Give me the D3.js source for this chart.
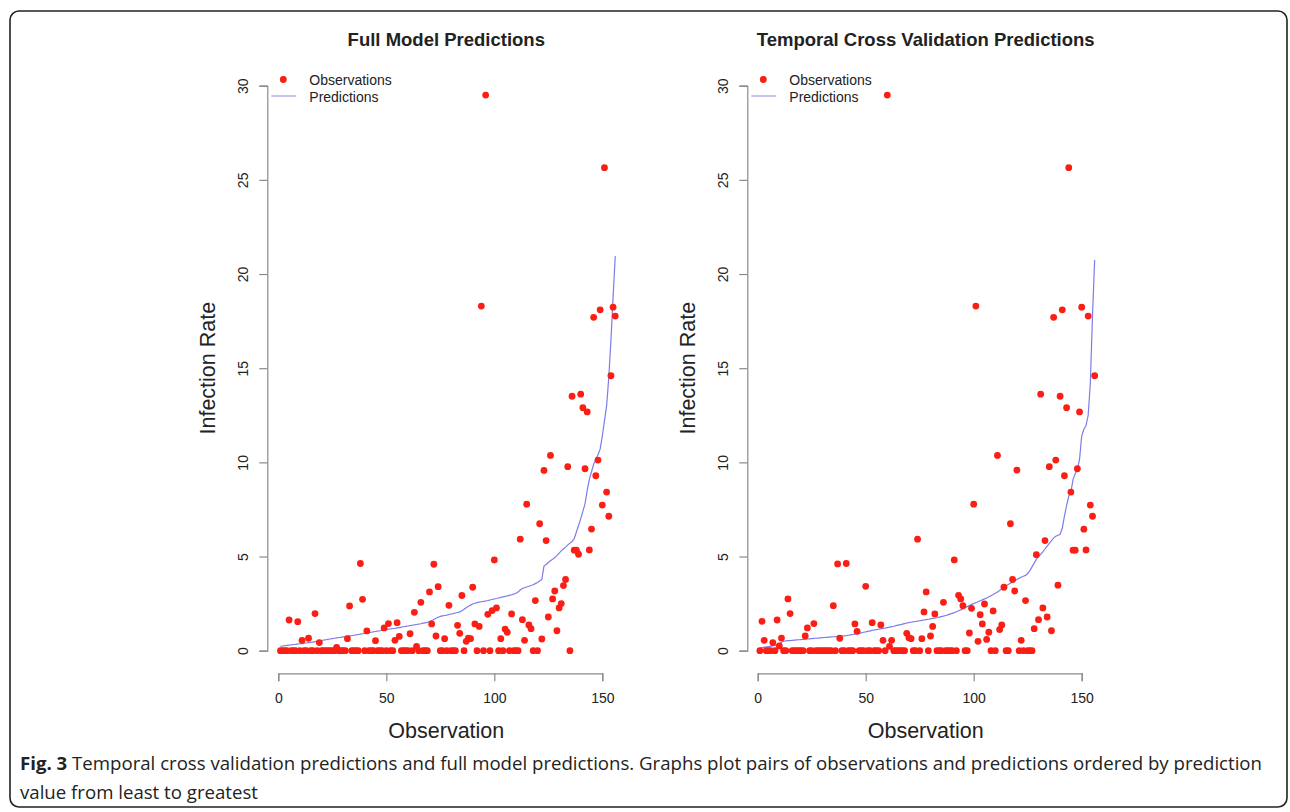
<!DOCTYPE html>
<html>
<head>
<meta charset="utf-8">
<script src="https://d3js.org/d3.v7.min.js"></script>
<style>
  html, body { margin: 0; padding: 0; background: #fff; }
  svg text.plot { font-family: "Liberation Sans", Arial, sans-serif; }
  svg text.caption { font-family: "Open Sans", "Noto Sans", sans-serif; }
</style>
</head>
<body>
<div id="chart"></div>
<script>
// panel titles
const titles = ["Full Model Predictions", "Temporal Cross Validation Predictions"];
const xTicks = [0, 50, 100, 150];
const yTicks = [0, 5, 10, 15, 20, 25, 30];

// observed infection rates, ordered by prediction (full model)
const obsFull = [
  0, 0, 0, 0, 1.63, 0, 0, 0, 1.54, 0,
  0.55, 0, 0, 0.66, 0, 0, 1.97, 0, 0.43, 0,
  0, 0, 0, 0, 0, 0, 0.18, 0, 0, 0,
  0, 0.64, 2.38, 0, 0, 0, 0, 4.63, 2.73, 0,
  1.05, 0, 0, 0, 0.53, 0, 0, 0, 1.21, 0,
  1.44, 0, 0, 0.55, 1.49, 0.76, 0, 0, 0, 0,
  0.9, 0, 2.04, 0.23, 0, 2.57, 0, 0, 0, 3.12,
  1.42, 4.59, 0.78, 3.4, 0, 0, 0.64, 0, 2.41, 0,
  0, 0, 1.35, 0.92, 2.93, 0, 0.5, 0.66, 0.64, 3.37,
  1.42, 0, 1.29, 18.3, 0, 29.5, 1.93, 0, 2.13, 4.82,
  2.27, 0, 0.64, 0, 1.15, 0.98, 0, 1.95, 0, 0,
  0, 5.92, 1.65, 0.55, 7.78, 1.37, 1.17, 0, 2.66, 0,
  6.74, 0.62, 9.57, 5.85, 1.79, 10.37, 2.75, 3.17, 1.06, 2.27,
  2.5, 3.46, 3.78, 9.77, 0, 13.51, 5.34, 5.34, 5.12, 13.62,
  12.9, 9.66, 12.68, 5.35, 6.46, 17.7, 9.29, 10.12, 18.1, 7.73,
  25.65, 8.42, 7.14, 14.6, 18.24, 17.77
];

// full model predictions
const predFull = [
  0.23, 0.25, 0.27, 0.28, 0.30, 0.31, 0.33, 0.34, 0.36, 0.37,
  0.38, 0.40, 0.41, 0.43, 0.44, 0.46, 0.48, 0.50, 0.52, 0.54,
  0.56, 0.58, 0.60, 0.62, 0.64, 0.66, 0.68, 0.70, 0.71, 0.73,
  0.75, 0.77, 0.79, 0.80, 0.82, 0.84, 0.86, 0.88, 0.90, 0.92,
  0.94, 0.96, 0.98, 1.00, 1.02, 1.04, 1.06, 1.08, 1.10, 1.12,
  1.14, 1.16, 1.18, 1.19, 1.21, 1.23, 1.25, 1.27, 1.29, 1.31,
  1.33, 1.35, 1.37, 1.39, 1.41, 1.43, 1.46, 1.48, 1.50, 1.55,
  1.60, 1.66, 1.72, 1.78, 1.82, 1.85, 1.87, 1.89, 1.92, 1.95,
  1.97, 2.00, 2.03, 2.06, 2.12, 2.20, 2.28, 2.36, 2.42, 2.48,
  2.52, 2.55, 2.58, 2.60, 2.62, 2.64, 2.66, 2.69, 2.72, 2.75,
  2.77, 2.80, 2.83, 2.86, 2.88, 2.91, 2.94, 2.97, 3.00, 3.05,
  3.12, 3.22, 3.30, 3.34, 3.38, 3.42, 3.46, 3.50, 3.56, 3.62,
  3.70, 3.78, 4.49, 4.58, 4.68, 4.78, 4.85, 4.95, 5.05, 5.18,
  5.30, 5.40, 5.50, 5.62, 5.70, 5.80, 5.95, 6.30, 6.65, 7.00,
  7.40, 7.80, 8.50, 9.10, 9.50, 9.90, 10.15, 10.40, 10.70, 11.40,
  12.20, 13.00, 14.50, 16.50, 18.80, 20.95
];

// observed infection rates, ordered by prediction (temporal CV)
const obsCV = [
  0, 1.56, 0.55, 0, 0, 0, 0.43, 0, 1.63, 0.25,
  0.67, 0, 0, 2.75, 1.97, 0, 0, 0, 0, 0,
  0, 0.78, 1.21, 0, 0, 1.44, 0, 0, 0, 0,
  0, 0, 0, 0, 2.39, 0, 4.61, 0.66, 0, 0,
  4.63, 0, 0, 0, 1.42, 1.03, 0, 0, 0, 3.42,
  0, 0, 1.49, 0, 0, 0, 1.37, 0.55, 0, 29.5,
  0.23, 0.55, 0, 0, 0, 0, 0, 0, 0.92, 0.69,
  0.64, 0, 0, 5.92, 0, 0.64, 2.06, 3.12, 0, 0.78,
  1.29, 1.95, 0, 0, 0, 2.57, 0, 0, 0, 0,
  4.82, 0, 2.94, 2.75, 2.39, 0, 0, 0.94, 2.25, 7.78,
  18.3, 0.5, 1.91, 1.42, 2.48, 0.6, 0.98, 0, 2.11, 0,
  10.37, 1.12, 1.37, 3.37, 0, 0, 6.74, 3.78, 3.17, 9.59,
  0, 0.55, 0, 2.66, 0, 0, 0, 1.17, 5.1, 1.65,
  13.62, 2.27, 5.85, 1.79, 9.77, 1.06, 17.7, 10.12, 3.48, 13.51,
  18.1, 9.29, 12.9, 25.65, 8.42, 5.34, 5.34, 9.66, 12.68, 18.24,
  6.45, 5.35, 17.77, 7.73, 7.14, 14.6
];

// temporal cross validation predictions
const predCV = [
  0.14, 0.16, 0.18, 0.20, 0.22, 0.24, 0.26, 0.28, 0.30, 0.37,
  0.45, 0.50, 0.52, 0.53, 0.54, 0.55, 0.56, 0.57, 0.58, 0.59,
  0.60, 0.61, 0.62, 0.63, 0.64, 0.65, 0.66, 0.67, 0.68, 0.69,
  0.70, 0.71, 0.72, 0.73, 0.74, 0.75, 0.76, 0.77, 0.78, 0.79,
  0.80, 0.82, 0.84, 0.86, 0.88, 0.90, 0.92, 0.95, 0.98, 1.00,
  1.03, 1.05, 1.08, 1.10, 1.12, 1.14, 1.16, 1.18, 1.20, 1.23,
  1.25, 1.28, 1.30, 1.33, 1.36, 1.38, 1.41, 1.44, 1.47, 1.49,
  1.51, 1.53, 1.55, 1.57, 1.59, 1.61, 1.63, 1.65, 1.67, 1.69,
  1.71, 1.73, 1.75, 1.78, 1.81, 1.84, 1.87, 1.90, 1.94, 1.98,
  2.02, 2.07, 2.12, 2.17, 2.22, 2.28, 2.34, 2.40, 2.46, 2.50,
  2.55, 2.60, 2.65, 2.70, 2.75, 2.80, 2.86, 2.92, 2.98, 3.05,
  3.12, 3.20, 3.28, 3.36, 3.44, 3.52, 3.58, 3.64, 3.70, 3.78,
  3.84, 3.90, 3.95, 4.00, 4.10, 4.25, 4.45, 4.65, 4.85, 5.00,
  5.12, 5.25, 5.40, 5.55, 5.70, 5.85, 5.98, 6.08, 6.13, 6.18,
  6.50, 7.15, 7.70, 8.20, 8.42, 9.10, 9.40, 9.65, 10.16, 11.40,
  11.76, 11.95, 12.50, 14.20, 17.80, 20.75
];

const captionBold = "Fig. 3";
const captionLine1 = " Temporal cross validation predictions and full model predictions. Graphs plot pairs of observations and predictions ordered by prediction";
const captionLine2 = "value from least to greatest";

const width = 1290, height = 812;
const svg = d3.select("#chart").append("svg")
  .attr("width", width)
  .attr("height", height);

// figure frame
svg.append("rect")
  .attr("x", 10).attr("y", 11)
  .attr("width", 1277).attr("height", 796)
  .attr("rx", 9)
  .attr("fill", "none")
  .attr("stroke", "#222")
  .attr("stroke-width", 1.6);

const panels = [
  { title: titles[0], obs: obsFull, pred: predFull, x0: 278.3, yAxisX: 267.3 },
  { title: titles[1], obs: obsCV, pred: predCV, x0: 757.7, yAxisX: 747.3 }
];

const axisColor = "#8a8a8a";
const textColor = "#222";

panels.forEach(function (p) {
  const x = d3.scaleLinear().domain([0, 150]).range([p.x0, p.x0 + 324]);
  const y = d3.scaleLinear().domain([0, 30]).range([650.7, 85.7]);
  const g = svg.append("g");

  // title
  g.append("text").attr("class", "plot")
    .attr("x", x(75) + 6).attr("y", 46)
    .attr("text-anchor", "middle")
    .attr("font-size", 18.5)
    .attr("font-weight", "bold")
    .attr("fill", textColor)
    .text(p.title);

  // x axis
  const xa = g.append("g")
    .attr("transform", "translate(0,673.3)")
    .call(d3.axisBottom(x).tickValues(xTicks).tickSize(8).tickPadding(12));
  xa.select(".domain").attr("stroke", axisColor).attr("stroke-width", 1.2);
  xa.selectAll(".tick line").attr("stroke", axisColor).attr("stroke-width", 1.2);
  xa.selectAll(".tick text").attr("class", "plot")
    .attr("font-size", 14).attr("fill", textColor);

  // y axis
  const ya = g.append("g")
    .attr("transform", "translate(" + p.yAxisX + ",0)")
    .call(d3.axisLeft(y).tickValues(yTicks).tickSize(8).tickPadding(6));
  ya.select(".domain").attr("stroke", axisColor).attr("stroke-width", 1.2);
  ya.selectAll(".tick line").attr("stroke", axisColor).attr("stroke-width", 1.2);
  ya.selectAll(".tick text").attr("class", "plot")
    .attr("font-size", 14).attr("fill", textColor)
    .attr("x", null).attr("dy", null)
    .attr("text-anchor", "middle")
    .attr("transform", "translate(-19,0) rotate(-90)");

  // axis titles
  g.append("text").attr("class", "plot")
    .attr("x", x(75) + 6).attr("y", 738)
    .attr("text-anchor", "middle")
    .attr("font-size", 21.5)
    .attr("fill", textColor)
    .text("Observation");
  g.append("text").attr("class", "plot")
    .attr("transform", "translate(" + (p.yAxisX - 52) + "," + y(15) + ") rotate(-90)")
    .attr("text-anchor", "middle")
    .attr("font-size", 21.5)
    .attr("fill", textColor)
    .text("Infection Rate");

  // predictions line
  const line = d3.line()
    .x(function (d, i) { return x(i + 1); })
    .y(function (d) { return y(d); });
  g.append("path")
    .datum(p.pred)
    .attr("d", line)
    .attr("fill", "none")
    .attr("stroke", "#7d7de8")
    .attr("stroke-width", 1.2);

  // observation points
  g.selectAll("circle.obs")
    .data(p.obs)
    .enter()
    .append("circle")
    .attr("class", "obs")
    .attr("cx", function (d, i) { return x(i + 1); })
    .attr("cy", function (d) { return y(d); })
    .attr("r", 3.4)
    .attr("fill", "#fa1e14");

  // legend
  const lx = p.yAxisX;
  g.append("circle")
    .attr("cx", lx + 16).attr("cy", 79.5)
    .attr("r", 3.4).attr("fill", "#fa1e14");
  g.append("line")
    .attr("x1", lx + 4).attr("x2", lx + 29)
    .attr("y1", 96).attr("y2", 96)
    .attr("stroke", "#9f9fdc").attr("stroke-width", 1.2);
  g.append("text").attr("class", "plot")
    .attr("x", lx + 42).attr("y", 84.5)
    .attr("font-size", 14).attr("fill", textColor)
    .text("Observations");
  g.append("text").attr("class", "plot")
    .attr("x", lx + 42).attr("y", 101.5)
    .attr("font-size", 14).attr("fill", textColor)
    .text("Predictions");
});

// caption, sized so the first line spans the figure width
const line1 = svg.append("text").attr("class", "caption")
  .attr("x", 20).attr("y", 770)
  .attr("font-size", 19).attr("fill", "#222");
line1.append("tspan").attr("font-weight", "bold").text(captionBold);
line1.append("tspan").text(captionLine1);
const fs = 19 * 1243 / line1.node().getComputedTextLength();
line1.attr("font-size", fs);
svg.append("text").attr("class", "caption")
  .attr("x", 20).attr("y", 799)
  .attr("font-size", fs).attr("fill", "#222")
  .text(captionLine2);
</script>
</body>
</html>
